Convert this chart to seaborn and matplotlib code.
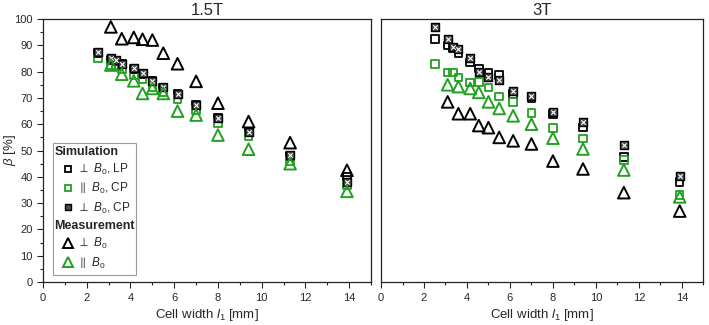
import matplotlib
matplotlib.use("Agg")
import matplotlib.pyplot as plt
from matplotlib.lines import Line2D
from matplotlib.patches import Rectangle
import seaborn as sns

# cell widths l1 [mm]
x_sim = [2.5, 3.1, 3.35, 3.6, 4.15, 4.55, 5.0, 5.5, 6.15, 7.0, 8.0, 9.4, 11.3, 13.9]
x_meas = [3.1, 3.6, 4.15, 4.55, 5.0, 5.5, 6.15, 7.0, 8.0, 9.4, 11.3, 13.9]

# 1.5T
lp_perp_15 = [87, 84.5, 84, 83, 81, 79, 76.5, 74, 71.5, 67.5, 62.5, 57, 48, 40]
cp_par_15 = [85, 82.5, 82, 81, 78.5, 77, 74, 72, 69.5, 65.5, 60.5, 55.5, 46, 37]
cp_perp_15 = [87.5, 85, 84.5, 83, 81.5, 79.5, 76.5, 74, 71.5, 67.5, 62.5, 57, 48.5, 38]
meas_perp_15 = [97, 92.5, 93, 92.3, 92, 87, 83, 76.3, 68, 61, 53, 42.5]
meas_par_15 = [82.5, 79, 76.5, 71.7, 73.6, 71.7, 65, 63.5, 55.9, 50.5, 45, 34.5]

# 3T
lp_perp_3 = [92.4, 90, 89, 87, 83.5, 81.2, 79.5, 78.7, 71.5, 70, 64, 58.8, 47.5, 38]
cp_par_3 = [82.8, 79.7, 79.7, 77.8, 75.9, 76, 73.9, 70.5, 68.4, 64.3, 58.5, 54.6, 46.5, 33]
cp_perp_3 = [96.8, 92.4, 89.5, 88.5, 85.3, 80, 78, 76.8, 72.8, 70.7, 64.8, 61, 52, 40.3]
meas_perp_3 = [68.5, 64, 64, 59.5, 58.7, 55, 53.7, 52.5, 46, 43, 34, 27]
meas_par_3 = [75, 74.3, 73.6, 72.1, 68.5, 66, 63.2, 60, 54.7, 50.6, 42.6, 32.4]

GREEN = "#22a022"
DARK = "#4a4a4a"

sns.set_theme(style="ticks")
plt.rcParams["font.family"] = ["Liberation Sans", "DejaVu Sans"]
plt.rcParams["mathtext.fontset"] = "custom"
plt.rcParams["mathtext.rm"] = "Liberation Sans"
plt.rcParams["mathtext.it"] = "Liberation Sans:italic"
plt.rcParams["mathtext.bf"] = "Liberation Sans:bold"

fig = plt.figure(figsize=(7.09, 3.25), dpi=100)
ax1 = fig.add_axes([0.0607, 0.132, 0.4626, 0.8095])
ax2 = fig.add_axes([0.5374, 0.132, 0.4546, 0.8095])


def draw(ax, lp, cpp, cpx, mp, mq):
    sq = dict(marker="s", s=30, linewidth=1.3, facecolor="none", legend=False)
    tri = dict(marker="^", s=70, linewidth=1.4, facecolor="none", legend=False)
    sns.scatterplot(x=x_sim, y=lp, ax=ax, edgecolor="black", **sq)
    sns.scatterplot(x=x_sim, y=cpp, ax=ax, edgecolor=GREEN, **sq)
    sns.scatterplot(x=x_sim, y=cpx, ax=ax, marker="s", s=30, color=DARK,
                    edgecolor="black", linewidth=1.0, legend=False)
    sns.scatterplot(x=x_sim, y=cpx, ax=ax, marker="x", s=10, color="white",
                    linewidth=0.8, legend=False)
    sns.scatterplot(x=x_meas, y=mp, ax=ax, edgecolor="black", **tri)
    sns.scatterplot(x=x_meas, y=mq, ax=ax, edgecolor=GREEN, **tri)

    ax.set_xlim(0, 15)
    ax.set_ylim(0, 100)
    ax.set_xticks(range(0, 15, 2))
    ax.set_xticks(range(1, 16, 2), minor=True)
    ax.set_yticks(range(0, 101, 10))
    ax.set_yticks(range(5, 100, 10), minor=True)
    ax.tick_params(labelsize=8, length=4, width=0.8, direction="out")
    ax.tick_params(which="minor", length=2.5, width=0.8)
    ax.set_xlabel(r"Cell width $l_1$ [mm]", fontsize=9.5, labelpad=3)
    for s in ax.spines.values():
        s.set_visible(True)
        s.set_linewidth(0.9)
        s.set_color("#222222")


draw(ax1, lp_perp_15, cp_par_15, cp_perp_15, meas_perp_15, meas_par_15)
draw(ax2, lp_perp_3, cp_par_3, cp_perp_3, meas_perp_3, meas_par_3)

ax1.set_ylabel(r"$\beta$ [%]", fontsize=9.5)
ax1.yaxis.set_label_coords(-0.076, 0.5)
ax2.set_ylabel("")
ax2.tick_params(axis="y", left=False, which="both", labelleft=False)
ax1.set_title("1.5T", fontsize=12, pad=3)
ax2.set_title("3T", fontsize=12, pad=3)

# legend box drawn by hand so the bold headings can stick out to the left
ax1.add_patch(Rectangle((0.030, 0.027), 0.254, 0.502, transform=ax1.transAxes,
                        facecolor="white", edgecolor="#999999", linewidth=0.8,
                        zorder=4))

blank = Line2D([], [], linestyle="none", marker="none")
handles = [
    blank,
    Line2D([], [], linestyle="none", marker="s", markersize=5, mfc="none", mec="black", mew=1.3),
    Line2D([], [], linestyle="none", marker="s", markersize=5, mfc="none", mec=GREEN, mew=1.3),
    Line2D([], [], linestyle="none", marker="s", markersize=5, mfc=DARK, mec="black", mew=1.0),
    blank,
    Line2D([], [], linestyle="none", marker="^", markersize=7, mfc="none", mec="black", mew=1.4),
    Line2D([], [], linestyle="none", marker="^", markersize=7, mfc="none", mec=GREEN, mew=1.4),
]
labels = [
    "Simulation",
    r"$\perp$ $B_0$, LP",
    r"$\parallel$ $B_0$, CP",
    r"$\perp$ $B_0$, CP",
    "Measurement",
    r"$\perp$ $B_0$",
    r"$\parallel$ $B_0$",
]
leg = ax1.legend(handles, labels, loc="upper left", bbox_to_anchor=(0.05, 0.532),
                 fontsize=8.5, frameon=False,
                 handlelength=0.8, handletextpad=0.5, labelspacing=0.36,
                 borderpad=0.3, borderaxespad=0.0)
leg.set_zorder(5)
for t, h in zip(leg.get_texts(), handles):
    if h is blank:
        t.set_x(-24)
        t.set_fontweight("bold")
        t.set_fontsize(9)

fig.savefig("out.png", dpi=100)
